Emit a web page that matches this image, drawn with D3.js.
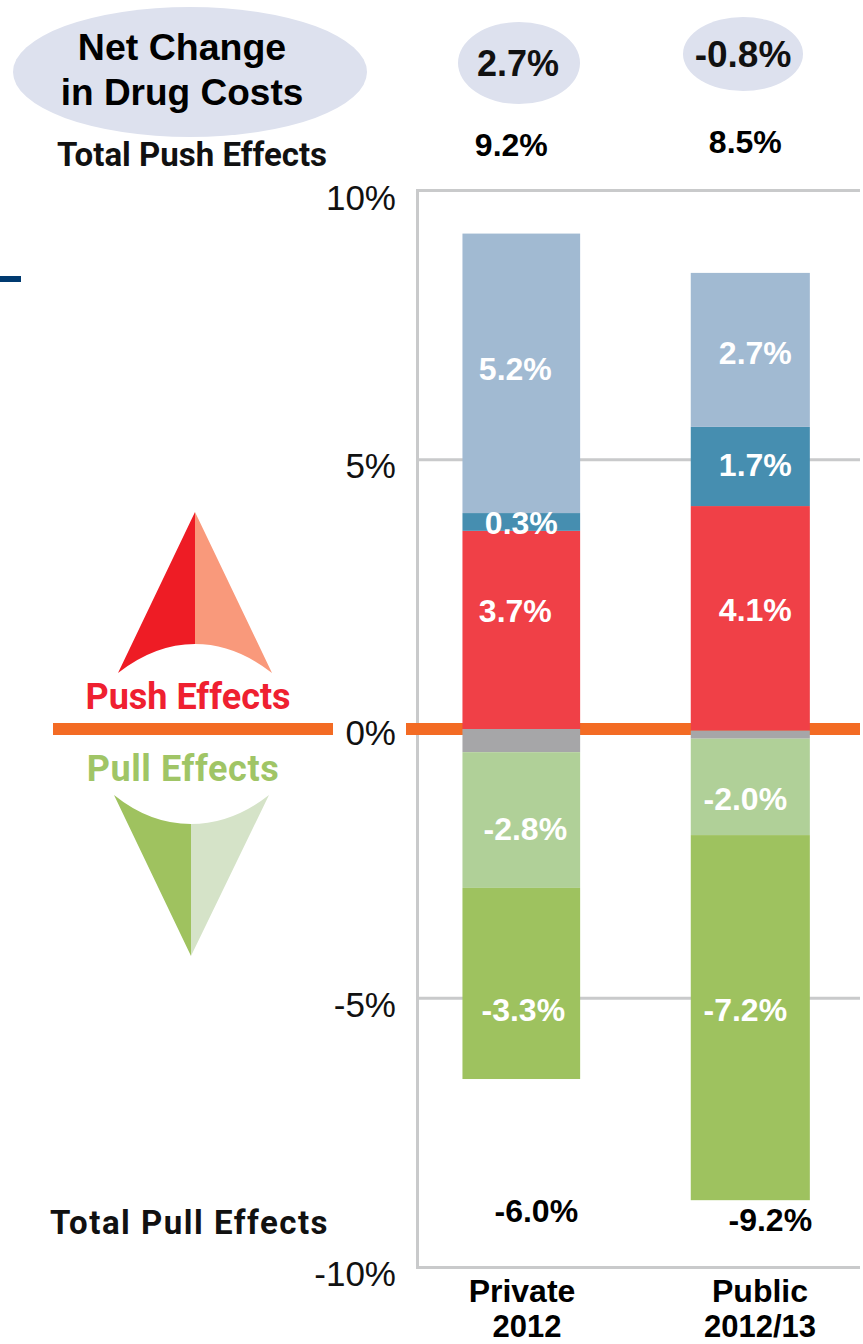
<!DOCTYPE html>
<html><head><meta charset="utf-8">
<script src="https://cdn.jsdelivr.net/npm/d3@7"></script>
<style>html,body{margin:0;padding:0;background:#fff}svg{display:block}
text{font-family:"Liberation Sans",Arial,sans-serif}</style></head>
<body><svg id="c" width="863" height="1344"></svg>
<script>
// ---- data ----
const categories = ["Private 2012", "Public 2012/13"];
const categoryLine1 = ["Private", "Public"];
const categoryLine2 = ["2012", "2012/13"];
const tickValues = [10, 5, 0, -5, -10];
const tickLabels = ["10%", "5%", "0%", "-5%", "-10%"];
const netChange = ["2.7%", "-0.8%"];
const totalPush = ["9.2%", "8.5%"];
const totalPull = ["-6.0%", "-9.2%"];
// where each stack starts, and drawn segment heights in percentage points
const stackBase = [0, -0.03];
const redHeights = [3.68, 4.17];
const tealHeights = [0.33, 1.47];
const blueHeights = [5.19, 2.86];
const greyHeights = [-0.43, -0.15];
const lightGreenHeights = [-2.52, -1.79];
const greenHeights = [-3.55, -6.78];
// printed labels
const redLabels = ["3.7%", "4.1%"];
const tealLabels = ["0.3%", "1.7%"];
const blueLabels = ["5.2%", "2.7%"];
const lightGreenLabels = ["-2.8%", "-2.0%"];
const greenLabels = ["-3.3%", "-7.2%"];

const seriesNames = ["red","teal","blue","grey","lightGreen","green"];
const seriesHeights = [redHeights,tealHeights,blueHeights,greyHeights,lightGreenHeights,greenHeights];
const seriesColors = {red:"#f04047",teal:"#468eb0",blue:"#a1bad2",grey:"#a6a6a8",lightGreen:"#b0d098",green:"#9ec25f"};

const svg = d3.select("#c");
const y = d3.scaleLinear().domain([10,-10]).range([190.5,1267.5]);
const x = d3.scaleBand().domain(categories).range([406.8,864.8]).paddingInner(0.48).paddingOuter(0.24);

// grid + axis
const axis = d3.axisLeft(y).tickValues(tickValues).tickFormat((d,i)=>tickLabels[i]).tickSize(0).tickPadding(0);
const gAxis = svg.append("g").attr("transform","translate(396,0)").call(axis);
gAxis.select(".domain").remove();
const tickNudge = {"10":6,"5":5,"0":3,"-5":6,"-10":5};
gAxis.selectAll("text").attr("font-size",35).attr("fill","#111").attr("dy","0.36em")
  .attr("y",d=>tickNudge[d]);
const grid = svg.append("g");
grid.selectAll("line").data(tickValues.filter(d=>d!==0)).join("line")
  .attr("x1",417).attr("x2",860).attr("y1",d=>y(d)).attr("y2",d=>y(d))
  .attr("stroke","#c9cacb").attr("stroke-width",3);
grid.append("line").attr("x1",417.5).attr("x2",417.5).attr("y1",y(10)-1.5).attr("y2",y(-10)+1.5)
  .attr("stroke","#c9cacb").attr("stroke-width",3);

// zero line
svg.append("line").attr("x1",53).attr("x2",333).attr("y1",y(0)).attr("y2",y(0)).attr("stroke","#f36b24").attr("stroke-width",12);
svg.append("line").attr("x1",406).attr("x2",860).attr("y1",y(0)).attr("y2",y(0)).attr("stroke","#f36b24").attr("stroke-width",12);

// stacked bars
categories.forEach((cat,i)=>{
  let pos=stackBase[i], neg=stackBase[i];
  seriesNames.forEach((name,s)=>{
    const h=seriesHeights[s][i];
    let a,b;
    if(h>=0){a=pos;b=pos+h;pos=b;} else {a=neg;b=neg+h;neg=b;}
    svg.append("rect").attr("x",x(cat)+(i===0?0.7:0)).attr("width",x.bandwidth()-(i===0?1.4:0))
      .attr("y",y(Math.max(a,b))).attr("height",Math.abs(y(a)-y(b)))
      .attr("fill",seriesColors[name]);
  });
});

function label(t,xp,yp,size,fill,weight){
  return svg.append("text").text(t).attr("x",xp).attr("y",yp).attr("text-anchor","middle")
    .attr("font-size",size).attr("fill",fill).attr("font-weight",weight||"bold");
}
// label layout (pixel offset from the bar centre, baseline from the picture)
const cx=i=>x(categories[i])+x.bandwidth()/2;
[[blueLabels,[-6,5],[380,364]],[tealLabels,[0,5],[534,476]],[redLabels,[-6,5],[622,621]],
 [lightGreenLabels,[4,-5],[840,810]],[greenLabels,[2,-5],[1021,1021]]].forEach(([arr,dx,by])=>{
  arr.forEach((t,i)=>label(t,cx(i)+dx[i],by[i],32,"#fff"));
});
[-10,-5].forEach((dx,i)=>label(totalPush[i],cx(i)+dx,[156,153][i],32,"#000"));
[15,20].forEach((dx,i)=>label(totalPull[i],cx(i)+dx,[1222,1231][i],32,"#000"));
// category labels
categoryLine1.forEach((t,i)=>label(t,[522,760][i],1302,32,"#000"));
categoryLine2.forEach((t,i)=>label(t,[527,760][i],1337,31,"#000"));

// net change ellipses
const ell=(cxp,cyp,rx,ry)=>svg.append("ellipse").attr("cx",cxp).attr("cy",cyp).attr("rx",rx).attr("ry",ry).attr("fill","#dde1ee");
ell(190,72,177,65); ell(519,63,61,41); ell(743,54,60,37);
label("Net Change",182,60,37.5,"#000");
label("in Drug Costs",182,105,37,"#000");
netChange.forEach((t,i)=>label(t,[518,743][i],[76,67][i],[36,37][i],"#111"));

// side captions
const din='Roboto,"Noto Sans",sans-serif';
label("Total Push Effects",192,166,33,"#111").style("font-family",din);
label("Total Pull Effects",189.5,1234,33,"#111").style("font-family",din).style("letter-spacing","1.5px");
label("Push Effects",188,709,36,"#ef2030").style("font-family",din);
label("Pull Effects",183,781,36,"#a0c566").style("font-family",din).style("letter-spacing","0.6px");

// decorative arrows
svg.append("path").attr("fill","#ee1c25").attr("d","M195,512L118,673Q155,644 195,644Z");
svg.append("path").attr("fill","#f9997b").attr("d","M195,512L272,673Q235,644 195,644Z");
svg.append("path").attr("fill","#9fc25f").attr("d","M191,956L114,795Q150,824 191,824Z");
svg.append("path").attr("fill","#d5e3c8").attr("d","M191,956L269,795Q232,824 191,824Z");

// stray navy mark at the left edge
svg.append("rect").attr("x",0).attr("y",276).attr("width",21).attr("height",6).attr("fill","#003a70");
</script></body></html>
